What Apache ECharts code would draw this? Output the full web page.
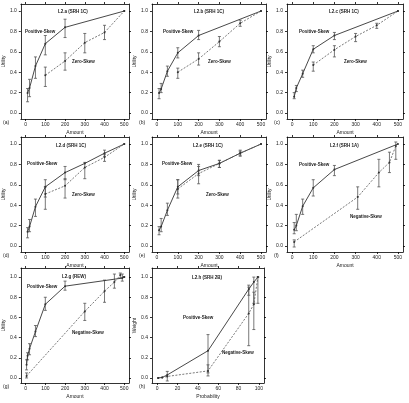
<!DOCTYPE html>
<html>
<head>
<meta charset="utf-8">
<script src="https://cdn.jsdelivr.net/npm/echarts@6/dist/echarts.min.js"></script>
<style>
  html, body { margin: 0; padding: 0; background: #fff; }
  #chart { width: 409px; height: 403px; }
</style>
</head>
<body>
<div id="chart"></div>
<script>
// each row: [x, value, errLow, errHigh]
const aPositive = [[10, 0.195, 0.11, 0.24], [20, 0.245, 0.16, 0.33], [50, 0.46, 0.34, 0.55], [100, 0.68, 0.57, 0.76], [200, 0.84, 0.74, 0.92], [500, 1.0]]
const aZero = [[100, 0.37, 0.26, 0.45], [200, 0.51, 0.42, 0.59], [300, 0.69, 0.59, 0.78], [400, 0.79, 0.72, 0.86], [500, 1.0]]

const bPositive = [[10, 0.195, 0.14, 0.24], [20, 0.235, 0.2, 0.29], [50, 0.41, 0.36, 0.46], [100, 0.59, 0.54, 0.64], [200, 0.76, 0.72, 0.81], [500, 1.0]]
const bZero = [[100, 0.40, 0.34, 0.44], [200, 0.53, 0.47, 0.59], [300, 0.70, 0.65, 0.75], [400, 0.88, 0.85, 0.91], [500, 1.0]]

const cPositive = [[10, 0.16, 0.14, 0.2], [20, 0.245, 0.21, 0.27], [50, 0.385, 0.35, 0.42], [100, 0.625, 0.59, 0.66], [200, 0.76, 0.72, 0.79], [500, 1.0]]
const cZero = [[100, 0.47, 0.41, 0.5], [200, 0.62, 0.55, 0.66], [300, 0.75, 0.70, 0.78], [400, 0.86, 0.83, 0.88], [500, 1.0]]

const dPositive = [[10, 0.14, 0.08, 0.18], [20, 0.19, 0.14, 0.26], [50, 0.385, 0.29, 0.46], [100, 0.58, 0.48, 0.65], [200, 0.72, 0.65, 0.78], [300, 0.81], [400, 0.91, 0.88, 0.94], [500, 1.0]]
const dZero = [[100, 0.51, 0.36, 0.58], [200, 0.59, 0.47, 0.66], [300, 0.77, 0.66, 0.82], [400, 0.87, 0.83, 0.9], [500, 1.0]]

const ePositive = [[10, 0.155, 0.11, 0.19], [20, 0.19, 0.14, 0.27], [50, 0.35, 0.3, 0.42], [100, 0.58, 0.51, 0.65], [200, 0.74, 0.69, 0.8], [300, 0.81, 0.77, 0.84], [400, 0.91, 0.88, 0.94], [500, 1.0]]
const eZero = [[100, 0.56, 0.47, 0.65], [200, 0.71, 0.61, 0.78], [300, 0.81, 0.77, 0.84], [400, 0.91, 0.89, 0.93], [500, 1.0]]

const fPositive = [[10, 0.16, 0.12, 0.23], [20, 0.2, 0.15, 0.31], [50, 0.39, 0.31, 0.46], [100, 0.57, 0.49, 0.65], [200, 0.75, 0.69, 0.79], [500, 1.0]]
const fNegative = [[10, 0.04, -0.01, 0.06], [310, 0.48, 0.36, 0.58], [410, 0.72, 0.58, 0.85], [460, 0.82, 0.72, 0.92], [490, 0.98, 0.85, 1.02]]

const gPositive = [[5, 0.13, 0.08, 0.18], [10, 0.22, 0.18, 0.25], [20, 0.29, 0.23, 0.34], [50, 0.46, 0.41, 0.52], [100, 0.73, 0.67, 0.8], [200, 0.91, 0.87, 0.96], [490, 0.99, 0.96, 1.03], [500, 1.0]]
const gNegative = [[5, 0.02, 0.0, 0.05], [300, 0.66, 0.57, 0.74], [400, 0.86, 0.75, 0.97], [450, 0.95, 0.89, 1.03], [480, 1.02, 0.99, 1.04], [500, 1.0]]

const hPositive = [[1, 0.0], [5, 0.005], [10, 0.03, -0.03, 0.065], [50, 0.27, 0.05, 0.43], [90, 0.88, 0.82, 0.92], [95, 0.95, 0.74, 1.0], [99, 1.0]]
const hNegative = [[1, 0.0], [5, 0.005], [10, 0.015], [50, 0.07, 0.02, 0.13], [90, 0.64, 0.32, 0.9], [95, 0.73, 0.48, 0.85], [99, 1.0, 0.74, 1.0]]

const amountTicks = [0, 100, 200, 300, 400, 500]
const probTicks = [0, 20, 40, 60, 80, 100]
const utilityTicks = [0, 0.2, 0.4, 0.6, 0.8, 1.0]

const panels = [
  { tag: '(a)', title: 'L2.a (SRH 1C)', pos: aPositive, other: aZero, otherName: 'Zero-Skew', box: [16, 4, 113, 115] },
  { tag: '(b)', title: 'L2.b (SRH 1C)', pos: bPositive, other: bZero, otherName: 'Zero-Skew', box: [152, 4, 114, 115] },
  { tag: '(c)', title: 'L2.c (SRH 1C)', pos: cPositive, other: cZero, otherName: 'Zero-Skew', box: [287, 4, 116, 115] },
  { tag: '(d)', title: 'L2.d (SRH 1C)', pos: dPositive, other: dZero, otherName: 'Zero-Skew', box: [16, 137, 113, 115] },
  { tag: '(e)', title: 'L2.e (SRH 1C)', pos: ePositive, other: eZero, otherName: 'Zero-Skew', box: [152, 137, 114, 115] },
  { tag: '(f)', title: 'L2.f (SRH 1A)', pos: fPositive, other: fNegative, otherName: 'Negative-Skew', box: [287, 137, 116, 115] },
  { tag: '(g)', title: 'L2.g (REW)', pos: gPositive, other: gNegative, otherName: 'Negative-Skew', box: [16, 268, 113, 115] },
  { tag: '(h)', title: 'L2.h (SRH 2B)', pos: hPositive, other: hNegative, otherName: 'Negative-Skew', box: [152, 268, 112, 115], prob: true }
]

// annotation spots inside each box: left edge and middle line (title, positive label, other label)
const notes = [
  [[42, 8], [9, 28], [56, 58]],
  [[42, 8], [11, 28], [56, 58]],
  [[42, 8], [12, 28], [57, 58]],
  [[40, 9], [11, 27], [56, 58]],
  [[41, 9], [10, 27], [54, 58]],
  [[43, 9], [12, 28], [63, 80]],
  [[46, 9], [11, 19], [56, 65]],
  [[40, 10], [31, 50], [70, 85]]
]

const font = 'Liberation Sans, Arial, sans-serif'
const ink = '#333'

const grid = [], xAxis = [], yAxis = [], series = [], graphic = []

const errorBars = (rows, xi, yi) => ({
  type: 'custom',
  xAxisIndex: xi,
  yAxisIndex: yi,
  silent: true,
  encode: { x: 0, y: [1, 2] },
  data: rows.filter(r => r.length > 2).map(r => [r[0], r[2], r[3]]),
  renderItem: (params, api) => {
    const lo = api.coord([api.value(0), api.value(1)])
    const hi = api.coord([api.value(0), api.value(2)])
    const w = 1.5
    const style = { stroke: '#555', lineWidth: 0.8 }
    return {
      type: 'group',
      children: [
        { type: 'line', shape: { x1: lo[0], y1: lo[1], x2: hi[0], y2: hi[1] }, style },
        { type: 'line', shape: { x1: lo[0] - w, y1: lo[1], x2: lo[0] + w, y2: lo[1] }, style },
        { type: 'line', shape: { x1: hi[0] - w, y1: hi[1], x2: hi[0] + w, y2: hi[1] }, style }
      ]
    }
  }
})

panels.forEach((p, i) => {
  const [left, top, width, height] = p.box
  const lastRow = i >= 6
  const xTicks = p.prob ? probTicks : amountTicks
  const xMin = p.prob ? -5 : -24
  const xMax = p.prob ? 105 : 524
  const yMin = lastRow ? -0.05 : -0.059
  const yMax = lastRow ? 1.09 : 1.069
  grid.push({ left, top, width, height })

  const line = { lineStyle: { color: '#000', width: 0.8 } }
  const tick = { length: 2, lineStyle: { color: '#000', width: 0.8 } }
  const label = { fontSize: 5, color: '#222', fontFamily: font }

  xAxis.push({
    gridIndex: i, type: 'value', min: xMin, max: xMax, position: 'bottom',
    axisLine: { show: true, onZero: false, ...line },
    axisTick: { ...tick, customValues: xTicks },
    axisLabel: { ...label, margin: 3, customValues: xTicks },
    splitLine: { show: false },
    name: p.prob ? 'Probability' : 'Amount', nameLocation: 'middle', nameGap: 11,
    nameTextStyle: { fontSize: 5, color: '#222', fontFamily: font }
  })
  xAxis.push({
    gridIndex: i, type: 'value', min: xMin, max: xMax, position: 'top',
    axisLine: { show: true, onZero: false, ...line },
    axisTick: { ...tick, customValues: xTicks },
    axisLabel: { show: false },
    splitLine: { show: false }
  })
  yAxis.push({
    gridIndex: i, type: 'value', min: yMin, max: yMax, position: 'left',
    axisLine: { show: true, onZero: false, ...line },
    axisTick: { ...tick, customValues: utilityTicks },
    axisLabel: { ...label, margin: 4, customValues: utilityTicks, formatter: v => v.toFixed(1) },
    splitLine: { show: false },
    name: p.prob ? 'Weight' : 'Utility', nameLocation: 'middle', nameGap: 12,
    nameTextStyle: { fontSize: 5, color: '#222', fontFamily: font }
  })
  yAxis.push({
    gridIndex: i, type: 'value', min: yMin, max: yMax, position: 'right',
    axisLine: { show: true, onZero: false, ...line },
    axisTick: { ...tick, customValues: utilityTicks },
    axisLabel: { show: false },
    splitLine: { show: false }
  })

  const xi = i * 2, yi = i * 2
  series.push({
    type: 'line', xAxisIndex: xi, yAxisIndex: yi, silent: true,
    data: p.pos.map(r => [r[0], r[1]]),
    symbol: 'circle', symbolSize: 2,
    itemStyle: { color: ink },
    lineStyle: { color: ink, width: 0.9 }
  })
  series.push({
    type: 'line', xAxisIndex: xi, yAxisIndex: yi, silent: true,
    data: p.other.map(r => [r[0], r[1]]),
    symbol: 'circle', symbolSize: 2,
    itemStyle: { color: ink },
    lineStyle: { color: '#555', width: 0.8, type: [2, 1.5] }
  })
  series.push(errorBars(p.pos, xi, yi))
  series.push(errorBars(p.other, xi, yi))

  const n = notes[i]
  const txt = (text, at) => ({
    type: 'text', x: left + at[0], y: top + at[1],
    style: { text, font: 'bold 4.5px ' + font, fill: '#222', align: 'left', verticalAlign: 'middle' }
  })
  graphic.push(txt(p.title, n[0]))
  graphic.push(txt('Positive-Skew', n[1]))
  graphic.push(txt(p.otherName, n[2]))
  graphic.push({
    type: 'text', x: left - 13, y: top + height + 4,
    style: { text: p.tag, font: '5px ' + font, fill: '#222', align: 'left', verticalAlign: 'middle' }
  })
})

const chart = echarts.init(document.getElementById('chart'))
chart.setOption({
  animation: false,
  backgroundColor: '#fff',
  grid, xAxis, yAxis, series, graphic
})
</script>
</body>
</html>
